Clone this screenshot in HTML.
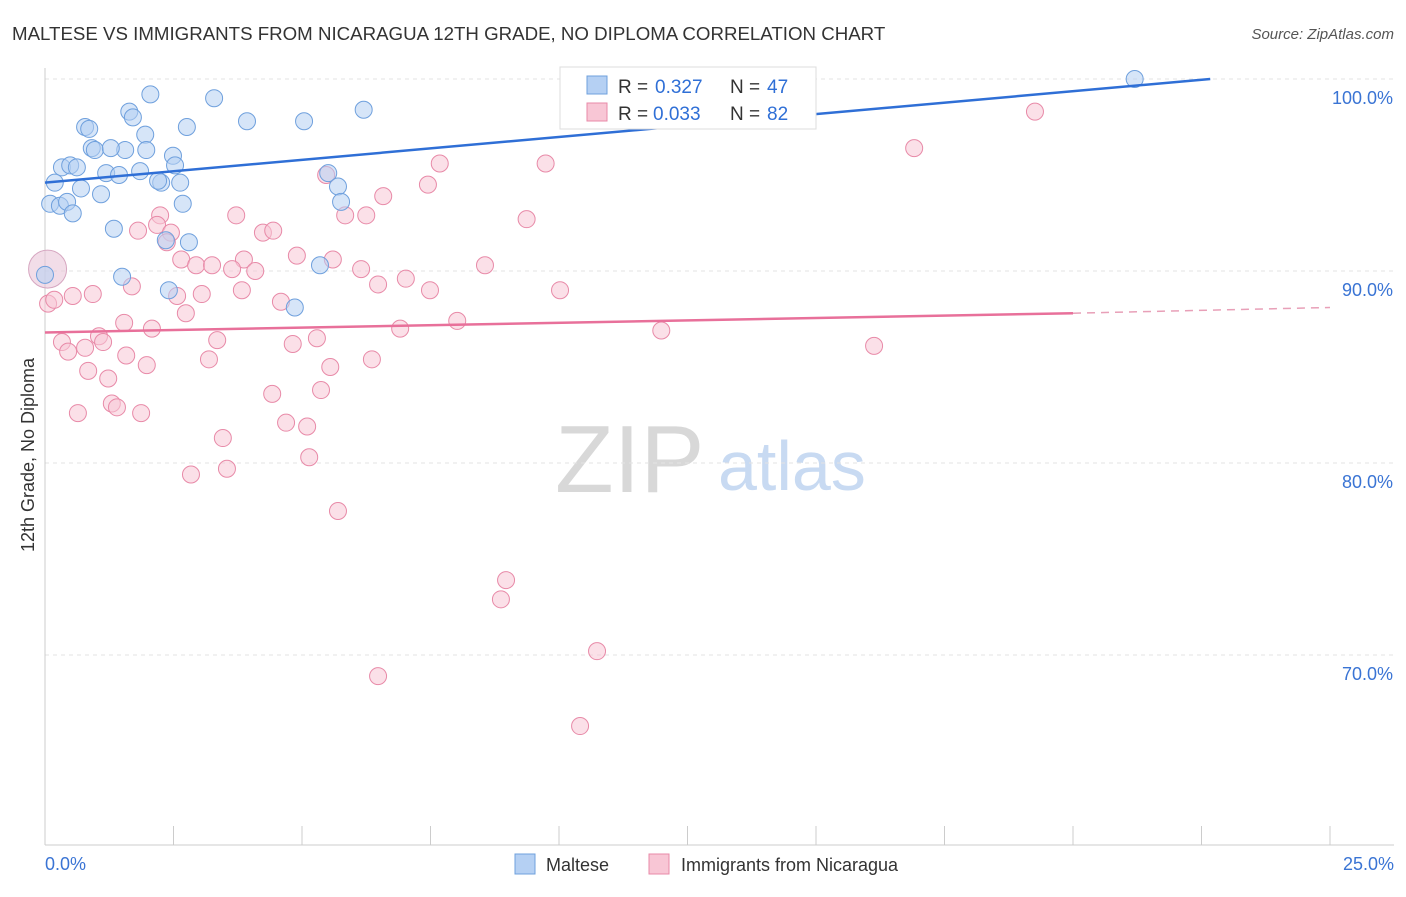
<!DOCTYPE html>
<html><head><meta charset="utf-8">
<style>
body{margin:0;background:#fff;font-family:"Liberation Sans",sans-serif;}
svg text{font-family:"Liberation Sans",sans-serif;}
</style></head>
<body>
<svg id="chart" width="1406" height="892" viewBox="0 0 1406 892" xmlns="http://www.w3.org/2000/svg">
<text x="12" y="40" font-size="18.7" fill="#333">MALTESE VS IMMIGRANTS FROM NICARAGUA 12TH GRADE, NO DIPLOMA CORRELATION CHART</text>
<text x="1394" y="39" font-size="15" fill="#555" text-anchor="end" font-style="italic">Source: ZipAtlas.com</text>
<g>
<text x="555" y="492" font-size="96" fill="#d8d8d8" font-family="Liberation Serif,serif">ZIP</text>
<text x="718" y="490" font-size="70" fill="#c8daf2">atlas</text>
</g>
<g id="grid"></g>
<g id="axes"></g>
<g id="pts"></g>
<g id="lines"></g>
<text transform="translate(34,455) rotate(-90)" font-size="18" fill="#333" text-anchor="middle">12th Grade, No Diploma</text>
<g>
<rect x="560" y="67" width="256" height="62" fill="#fff" stroke="#ddd"/>
<rect x="587" y="76" width="20" height="18" fill="#b5d0f3" stroke="#6fa0dd"/>
<text x="618" y="93" font-size="19" fill="#333">R =</text>
<text x="655" y="93" font-size="19" fill="#2f6fd6">0.327</text>
<text x="730" y="93" font-size="19" fill="#333">N =</text>
<text x="767" y="93" font-size="19" fill="#2f6fd6">47</text>
<rect x="587" y="103" width="20" height="18" fill="#f8c6d5" stroke="#e88aa8"/>
<text x="618" y="120" font-size="19" fill="#333">R =</text>
<text x="653" y="120" font-size="19" fill="#2f6fd6">0.033</text>
<text x="730" y="120" font-size="19" fill="#333">N =</text>
<text x="767" y="120" font-size="19" fill="#2f6fd6">82</text>
</g>
<g>
<rect x="515" y="854" width="20" height="20" fill="#b5d0f3" stroke="#6fa0dd"/>
<text x="546" y="871" font-size="18" fill="#333">Maltese</text>
<rect x="649" y="854" width="20" height="20" fill="#f8c6d5" stroke="#e88aa8"/>
<text x="681" y="871" font-size="18" fill="#333">Immigrants from Nicaragua</text>
</g>
</svg>
<script>
const xTicks=[0,2.5,5,7.5,10,12.5,15,17.5,20,22.5,25];
const yTicks=[70,80,90,100];
const yTickLabels=["70.0%","80.0%","90.0%","100.0%"];
const malteseX=[21.2,2.05,3.29,1.64,6.2,1.71,3.93,5.04,0.78,0.86,2.76,1.95,1.56,0.91,0.97,1.28,1.97,2.49,0.33,0.49,0.62,2.53,1.85,1.19,1.44,5.51,0.19,2.26,2.63,0.70,5.7,1.09,0.1,0.29,0.43,0.54,2.68,5.76,1.34,2.35,2.8,5.35,1.5,2.41,4.86,0.0,2.2];
const malteseY=[100,99.2,99.0,98.3,98.4,98.0,97.8,97.8,97.5,97.4,97.5,97.1,96.3,96.4,96.3,96.4,96.3,96.0,95.4,95.5,95.4,95.5,95.2,95.1,95.0,95.1,94.6,94.6,94.6,94.3,94.4,94.0,93.5,93.4,93.6,93.0,93.5,93.6,92.2,91.6,91.5,90.3,89.7,89.0,88.1,89.8,94.7];
const nicX=[19.26,16.91,7.68,9.74,5.47,7.45,6.58,2.24,3.72,5.84,6.25,9.37,1.81,2.18,2.45,4.24,4.44,2.37,4.9,3.87,5.6,2.65,2.94,3.25,3.64,4.09,6.15,8.56,7.02,6.48,7.49,10.02,1.69,3.83,0.06,0.18,0.54,0.93,2.57,3.05,4.59,2.74,1.54,2.08,6.91,8.02,11.99,1.05,0.33,3.35,5.29,1.13,4.82,0.45,0.78,1.58,3.19,6.36,1.98,5.55,16.13,0.84,1.23,5.37,4.42,1.3,1.4,0.64,1.87,4.69,5.1,3.46,5.14,3.54,2.84,5.7,8.97,8.87,10.74,6.48,10.41];
const nicY=[98.3,96.4,95.6,95.6,95.0,94.5,93.9,92.9,92.9,92.9,92.9,92.7,92.1,92.4,92.0,92.0,92.1,91.5,90.8,90.6,90.6,90.6,90.3,90.3,90.1,90.0,90.1,90.3,89.6,89.3,89.0,89.0,89.2,89.0,88.3,88.5,88.7,88.8,88.7,88.8,88.4,87.8,87.3,87.0,87.0,87.4,86.9,86.6,86.3,86.4,86.5,86.3,86.2,85.8,86.0,85.6,85.4,85.4,85.1,85.0,86.1,84.8,84.4,83.8,83.6,83.1,82.9,82.6,82.6,82.1,81.9,81.3,80.3,79.7,79.4,77.5,73.9,72.9,70.2,68.9,66.3];
const maltLine=[[0,94.6],[22.67,100]];
const nicLine=[[0,86.8],[20.0,87.8],[25,88.1]];
const X=v=>45+v*51.4, Y=v=>79+(100-v)*19.2;
const NS="http://www.w3.org/2000/svg";
function mk(t,a,p){const e=document.createElementNS(NS,t);for(const k in a)e.setAttribute(k,a[k]);p.appendChild(e);return e;}
const grid=document.getElementById('grid'),axes=document.getElementById('axes'),pts=document.getElementById('pts'),lines=document.getElementById('lines');
yTicks.forEach((t,i)=>{
 const l=mk('line',{x1:45,x2:1394,y1:Y(t),y2:Y(t),stroke:'#e3e3e3','stroke-dasharray':'4,4'},grid);
 
 
 const tx=mk('text',{x:1393,y:Y(t)+25,'font-size':18,fill:'#3a74d4','text-anchor':'end'},axes);
 tx.textContent=yTickLabels[i];
 
 
});
const xa=mk('line',{x1:45,x2:1394,y1:845,y2:845,stroke:'#ccc'},axes);


const ya=mk('line',{x1:45,x2:45,y1:68,y2:845,stroke:'#ccc'},axes);


xTicks.forEach(t=>{const l=mk('line',{x1:X(t),x2:X(t),y1:826,y2:845,stroke:'#ccc'},axes);
 
 });
let t0=mk('text',{x:45,y:870,'font-size':18,fill:'#3a74d4'},axes);t0.textContent='0.0%';


let t1=mk('text',{x:1394,y:870,'font-size':18,fill:'#3a74d4','text-anchor':'end'},axes);t1.textContent='25.0%';


const big=mk('circle',{cx:X(0.05),cy:Y(90.1),r:19,fill:'#e9c6d8',stroke:'#d6a6c0','fill-opacity':0.6},pts);


nicX.forEach((x,i)=>{const c=mk('circle',{cx:X(x),cy:Y(nicY[i]),r:8.5,fill:'#f8c6d5','fill-opacity':0.55,stroke:'#e88aa8','stroke-width':1},pts);
 
 });
malteseX.forEach((x,i)=>{const c=mk('circle',{cx:X(x),cy:Y(malteseY[i]),r:8.5,fill:'#b5d0f3','fill-opacity':0.55,stroke:'#6fa0dd','stroke-width':1},pts);
 
 });
const bl=mk('line',{x1:X(maltLine[0][0]),y1:Y(maltLine[0][1]),x2:X(maltLine[1][0]),y2:Y(maltLine[1][1]),stroke:'#2f6fd6','stroke-width':2.5},lines);


const pl=mk('line',{x1:X(nicLine[0][0]),y1:Y(nicLine[0][1]),x2:X(nicLine[1][0]),y2:Y(nicLine[1][1]),stroke:'#e8709a','stroke-width':2.5},lines);


const pd=mk('line',{x1:X(nicLine[1][0]),y1:Y(nicLine[1][1]),x2:X(nicLine[2][0]),y2:Y(nicLine[2][1]),stroke:'#e8a0b8','stroke-width':1.5,'stroke-dasharray':'8,6'},lines);


</script>
</body></html>
